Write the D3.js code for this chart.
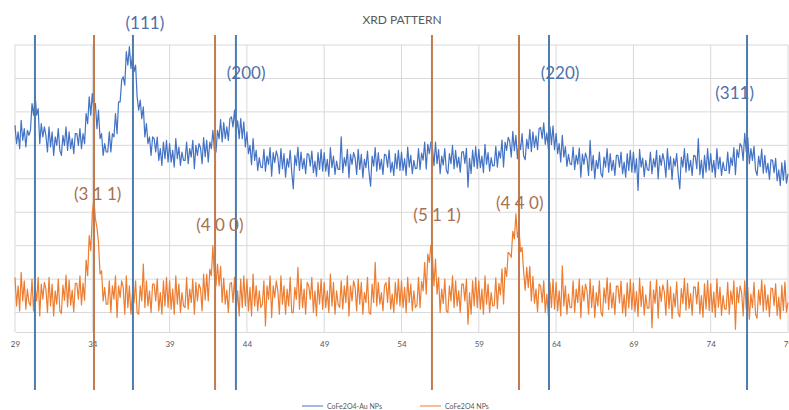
<!DOCTYPE html>
<html>
<head>
<meta charset="utf-8">
<script src="https://cdn.jsdelivr.net/npm/d3@7"></script>
<style>
  html, body { margin: 0; padding: 0; background: #fff; }
  svg { display: block; }
</style>
</head>
<body>
<svg id="chart" width="789" height="410"></svg>
<script>
// ---------- DATA ----------
const chartTitle = "XRD PATTERN";
const seriesNames = ["CoFe2O4-Au NPs", "CoFe2O4 NPs"];
const twoThetaStart = 29;
const twoThetaStep = 0.1;
const xTicks = [29, 34, 39, 44, 49, 54, 59, 64, 69, 74, 79];
const yGridValues = [100, 200, 300, 400, 500, 600, 700, 800, 900];

// CoFe2O4-Au NPs intensity (a.u.), 29.0 .. 79.0 in 0.1 deg steps (one row per degree)
const auIntensity = [
  660,605,640,590,675,615,650,595,645,630,
  645,725,690,750,690,710,605,665,625,655,
  630,580,655,595,640,570,625,600,650,585,
  570,630,600,655,585,640,590,620,575,635,
  635,600,650,590,635,605,695,665,745,690,
  755,705,725,650,705,620,635,570,605,580,
  580,640,580,635,625,695,635,730,730,795,
  805,780,880,840,895,830,870,820,840,745,
  705,735,680,715,625,665,605,625,570,625,
  620,580,625,555,590,540,610,560,615,550,
  605,550,585,535,620,560,595,540,580,555,
  555,610,545,590,565,615,530,600,570,605,
  593,545,623,566,615,550,610,590,645,585,
  580,645,620,677,610,668,620,655,615,680,
  685,655,705,642,673,620,680,620,670,595,
  640,575,600,542,620,555,585,525,563,535,
  533,588,523,568,543,593,508,578,548,583,
  565,515,590,530,575,505,560,535,585,520,
  470,570,540,595,525,580,530,560,515,575,
  573,538,583,518,553,508,578,528,588,523,
  578,523,558,508,593,533,568,513,553,528,
  528,625,518,563,538,588,503,573,543,578,
  563,513,588,528,573,503,558,533,583,518,
  478,568,538,593,523,578,528,558,513,573,
  570,535,586,520,550,510,575,530,585,525,
  580,525,560,510,595,535,570,515,555,530,
  532,590,528,577,556,610,529,603,575,610,
  593,539,610,545,587,515,568,541,590,525,
  515,575,545,600,530,585,535,565,520,580,
  581,546,591,475,561,516,586,536,596,531,
  588,533,568,518,603,543,578,523,563,538,
  540,597,535,583,562,616,535,610,585,624,
  612,565,642,584,630,560,614,587,635,568,
  557,618,590,648,581,640,594,628,587,650,
  653,620,667,603,637,590,657,603,658,587,
  636,575,605,550,630,565,596,537,573,545,
  542,595,528,571,544,592,505,574,543,577,
  560,510,615,525,570,500,555,530,580,515,
  505,565,535,590,520,575,525,555,510,570,
  570,535,580,515,550,505,575,525,585,520,
  580,518,560,465,588,535,562,506,555,528,
  525,580,515,560,535,585,500,570,540,575,
  552,505,590,528,566,498,560,538,575,512,
  470,565,535,590,520,575,525,555,510,570,
  568,530,620,512,556,502,570,520,590,526,
  575,520,555,505,590,530,565,510,550,525,
  525,580,516,563,540,593,512,587,563,605,
  597,555,636,580,623,545,590,555,597,526,
  510,568,536,589,517,570,518,546,499,557,
  555,518,561,494,527,480,548,496,554,487,
  515
];

// CoFe2O4 NPs intensity (a.u.), 29.0 .. 79.0 in 0.1 deg steps (one row per degree)
const plainIntensity = [
  205,120,180,105,220,135,195,110,170,130,
  120,200,105,175,135,205,90,185,140,190,
  170,100,205,120,185,90,165,125,200,105,
  97,182,137,212,117,197,122,167,102,187,
  187,140,210,123,188,137,257,210,330,285,
  395,440,380,355,310,215,225,135,175,125,
  125,195,100,180,140,210,85,180,145,195,
  175,95,210,115,180,95,160,130,195,100,
  95,180,135,245,115,195,120,165,100,185,
  185,135,200,105,160,95,195,120,205,115,
  195,110,170,95,210,125,185,100,160,120,
  115,205,110,170,130,200,95,190,135,185,
  172,105,215,138,215,135,230,210,300,205,
  180,245,180,238,130,203,125,167,100,185,
  190,130,205,100,165,90,200,115,210,120,
  200,105,175,90,215,120,180,105,165,115,
  125,195,60,180,140,210,85,180,145,195,
  165,95,210,125,180,95,170,120,205,100,
  100,175,140,235,110,200,115,170,95,190,
  180,140,205,100,165,90,190,125,200,110,
  190,115,165,100,215,120,190,95,165,125,
  115,195,110,180,130,210,90,180,135,195,
  175,105,200,125,190,95,160,130,205,100,
  95,185,130,250,120,190,125,160,105,180,
  190,130,205,110,155,100,190,125,200,120,
  195,115,175,100,205,130,185,105,165,115,
  122,205,115,193,165,250,155,275,250,302,
  270,180,260,155,205,100,170,127,200,105,
  100,180,135,210,115,195,120,165,100,185,
  185,135,200,65,160,95,195,120,205,115,
  195,110,170,95,210,125,185,100,160,120,
  122,204,112,187,153,231,126,235,208,280,
  275,265,343,320,395,325,350,282,295,223,
  167,235,175,238,135,208,128,170,102,185,
  180,130,195,100,155,90,190,115,200,110,
  190,105,165,90,240,120,180,95,155,115,
  115,195,100,170,130,200,85,180,135,185,
  165,95,200,115,180,85,160,120,195,100,
  89,174,129,204,109,189,114,159,94,179,
  179,129,194,99,154,89,189,114,199,109,
  188,103,163,88,203,118,178,93,153,113,
  113,193,55,168,128,198,83,178,133,183,
  162,92,197,112,177,82,157,117,192,97,
  87,172,127,202,107,187,112,157,92,177,
  176,126,191,96,151,86,186,111,196,106,
  186,101,161,86,201,116,176,91,151,111,
  110,190,95,165,125,195,50,175,130,180,
  160,90,195,110,175,80,155,115,190,95,
  83,168,123,198,103,183,108,153,88,173,
  171,121,186,91,146,81,181,106,191,101,
  130
];

// reference peak positions (2theta, degrees)
const auPeakPositions = [30.29, 36.63, 43.29, 63.54, 76.35];
const plainPeakPositions = [34.11, 41.94, 55.97, 61.60];

// Miller index labels: text, 2theta, intensity where the label sits
const auLabelTexts = ["(111)", "(200)", "(220)", "(311)"];
const auLabelTheta = [37.4, 43.95, 64.25, 75.55];
const auLabelLevel = [948, 798, 798, 738];
const plainLabelTexts = ["(3 1 1)", "(4 0 0)", "(5 1 1)", "(4 4 0)"];
const plainLabelTheta = [34.35, 42.25, 56.3, 61.65];
const plainLabelLevel = [438, 345, 375, 411];

// ---------- DRAWING ----------
const svg = d3.select("#chart");
const plot = { left: 15, right: 788, top: 45, bottom: 346 };
const axisLevel = 42; // value where the horizontal axis crosses

const x = d3.scaleLinear().domain([29, 79]).range([plot.left, plot.right]);
const y = d3.scaleLinear().domain([0, 900]).range([plot.bottom, plot.top]);

const auColor = "#4472C4";
const plainColor = "#ED7D31";
const auMarkColor = "#4d7cad";
const plainMarkColor = "#c47a4c";
const gridColor = "#d9d9d9";
const textGray = "#595959";
const fontFamily = "Lato, 'Open Sans', 'Liberation Sans', sans-serif";

// title
svg.append("text")
  .attr("x", 402).attr("y", 24)
  .attr("text-anchor", "middle")
  .attr("font-family", fontFamily)
  .attr("font-size", 12)
  .attr("fill", textGray)
  .text(chartTitle);

// horizontal gridlines
svg.append("g").selectAll("line").data(yGridValues).join("line")
  .attr("x1", plot.left).attr("x2", plot.right)
  .attr("y1", d => y(d)).attr("y2", d => y(d))
  .attr("stroke", gridColor).attr("stroke-width", 1);

// vertical gridlines
svg.append("g").selectAll("line").data(xTicks).join("line")
  .attr("x1", d => x(d)).attr("x2", d => x(d))
  .attr("y1", y(900)).attr("y2", y(axisLevel))
  .attr("stroke", gridColor).attr("stroke-width", 1);

// x axis
const xAxis = d3.axisBottom(x).tickValues(xTicks).tickSize(0).tickPadding(9).tickFormat(d3.format("d"));
const gx = svg.append("g").attr("transform", `translate(0,${y(axisLevel)})`).call(xAxis);
gx.select(".domain").attr("stroke", gridColor);
gx.selectAll("text")
  .attr("font-family", fontFamily)
  .attr("font-size", 8)
  .attr("fill", textGray);

// series
const toPoints = arr => arr.map((v, i) => [twoThetaStart + i * twoThetaStep, v]);
const line = d3.line().x(d => x(d[0])).y(d => y(d[1]));

svg.append("path")
  .datum(toPoints(plainIntensity))
  .attr("d", line)
  .attr("fill", "none")
  .attr("stroke", plainColor)
  .attr("stroke-width", 1.2)
  .attr("stroke-linejoin", "round");

svg.append("path")
  .datum(toPoints(auIntensity))
  .attr("d", line)
  .attr("fill", "none")
  .attr("stroke", auColor)
  .attr("stroke-width", 1.2)
  .attr("stroke-linejoin", "round");

// peak reference lines
const markTop = 35, markBottom = 390;
svg.append("g").selectAll("line").data(plainPeakPositions).join("line")
  .attr("x1", d => x(d)).attr("x2", d => x(d))
  .attr("y1", markTop).attr("y2", markBottom)
  .attr("stroke", plainMarkColor).attr("stroke-width", 2);
svg.append("g").selectAll("line").data(auPeakPositions).join("line")
  .attr("x1", d => x(d)).attr("x2", d => x(d))
  .attr("y1", markTop).attr("y2", markBottom)
  .attr("stroke", auMarkColor).attr("stroke-width", 2);

// Miller index labels
svg.append("g").selectAll("text").data(auLabelTexts).join("text")
  .attr("x", (d, i) => x(auLabelTheta[i]))
  .attr("y", (d, i) => y(auLabelLevel[i]))
  .attr("text-anchor", "middle")
  .attr("font-family", fontFamily)
  .attr("font-size", 17)
  .attr("fill", "#4f6fa6")
  .text(d => d);

svg.append("g").selectAll("text").data(plainLabelTexts).join("text")
  .attr("x", (d, i) => x(plainLabelTheta[i]))
  .attr("y", (d, i) => y(plainLabelLevel[i]))
  .attr("text-anchor", "middle")
  .attr("font-family", fontFamily)
  .attr("font-size", 17)
  .attr("fill", "#a8704e")
  .text(d => d);

// legend
const legend = svg.append("g").attr("transform", "translate(302,406)");
const legendItems = [
  { name: seriesNames[0], color: auColor, dx: 0 },
  { name: seriesNames[1], color: plainColor, dx: 118 }
];
legendItems.forEach(it => {
  const g = legend.append("g").attr("transform", `translate(${it.dx},0)`);
  g.append("line").attr("x1", 0).attr("x2", 21).attr("y1", 0).attr("y2", 0)
    .attr("stroke", it.color).attr("stroke-width", 1);
  g.append("text").attr("x", 25).attr("y", 2.5)
    .attr("font-family", fontFamily).attr("font-size", 7)
    .attr("fill", textGray).text(it.name);
});
</script>
</body>
</html>
